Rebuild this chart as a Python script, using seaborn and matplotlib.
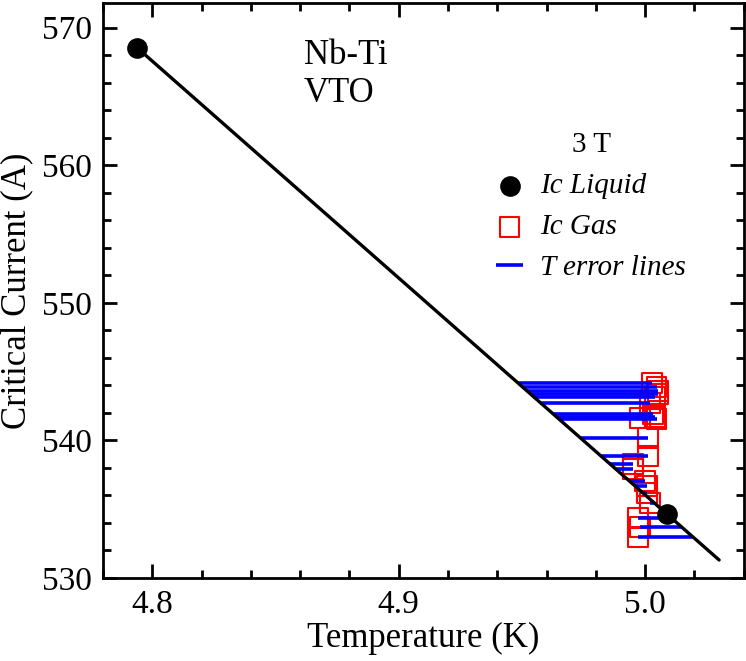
import numpy as np
import pandas as pd
import matplotlib
matplotlib.use('Agg')
import matplotlib.pyplot as plt
from matplotlib.ticker import MultipleLocator, FormatStrFormatter
import seaborn as sns

# Liquid helium measurements (temperature in K, critical current in A)
liquid_T = [4.7938, 5.0088]
liquid_Ic = [568.55, 534.65]

# Temperature range covered by the straight fit line
fit_T_range = [4.7938, 5.030]

# Gas measurements
gas_T = [5.0026, 5.0046, 5.0053, 5.0052, 5.0039, 5.0019, 5.0032, 5.0039, 5.0046,
         4.9978, 5.0012, 5.0013, 4.9951, 4.9951, 4.9999, 5.0006, 5.0007, 5.0019,
         4.9972, 4.9978, 4.9972]
gas_Ic = [544.16, 543.87, 543.60, 543.38, 543.19, 542.75, 541.93, 541.73, 541.54,
          541.64, 540.16, 538.85, 538.29, 537.89, 537.05, 536.67, 536.18, 535.48,
          534.34, 533.69, 532.96]

liquid = pd.DataFrame({'T': liquid_T, 'Ic': liquid_Ic})
gas = pd.DataFrame({'T': gas_T, 'Ic': gas_Ic})

# Linear fit through the liquid points
slope, intercept = np.polyfit(liquid['T'], liquid['Ic'], 1)
fit = pd.DataFrame({'T': fit_T_range})
fit['Ic'] = slope * fit['T'] + intercept

# Temperature on the fit line for each gas current -> error line ends
gas['T_fit'] = (gas['Ic'] - intercept) / slope

sns.set_style('ticks')
plt.rcParams['font.family'] = ['Liberation Serif', 'DejaVu Serif']
plt.rcParams['text.color'] = 'black'
plt.rcParams['axes.labelcolor'] = 'black'

fig = plt.figure(figsize=(7.46, 6.61), dpi=100)
ax = fig.add_axes([0.138, 0.1256, 0.859, 0.870])

sns.scatterplot(data=gas, x='T', y='Ic', marker='s', s=205, facecolor='none',
                edgecolor='red', linewidth=1.5, ax=ax, zorder=2, label='Ic Gas')
ax.hlines(gas['Ic'], np.minimum(gas['T'], gas['T_fit']),
          np.maximum(gas['T'], gas['T_fit']), color='blue', linewidth=2.6,
          zorder=3, label='T error lines')
sns.lineplot(data=fit, x='T', y='Ic', color='black', linewidth=2.4, ax=ax, zorder=4)
sns.scatterplot(data=liquid, x='T', y='Ic', color='black', s=190, edgecolor='black',
                ax=ax, zorder=5, label='Ic Liquid')

ax.set_xlim(4.78, 5.04)
ax.set_ylim(530, 571.8)
ax.xaxis.set_major_locator(MultipleLocator(0.1))
ax.xaxis.set_minor_locator(MultipleLocator(0.02))
ax.xaxis.set_major_formatter(FormatStrFormatter('%.1f'))
ax.yaxis.set_major_locator(MultipleLocator(10))
ax.yaxis.set_minor_locator(MultipleLocator(2))
ax.tick_params(which='both', direction='in', top=True, right=True, width=2,
               labelsize=24, colors='black')
ax.tick_params(which='major', length=10, pad=8)
ax.tick_params(which='minor', length=6)
for sp in ax.spines.values():
    sp.set_linewidth(2)
    sp.set_color('black')

ax.set_xlabel('Temperature (K)', fontsize=25, labelpad=2)
ax.set_ylabel('Critical Current (A)', fontsize=25, labelpad=6)

ax.text(0.313, 0.8934, 'Nb-Ti', fontsize=25, transform=ax.transAxes, va='baseline')
ax.text(0.313, 0.828, 'VTO', fontsize=25, transform=ax.transAxes, va='baseline')

# Legend in the order of the reference
handles, labels = ax.get_legend_handles_labels()
order = [labels.index(l) for l in ['Ic Liquid', 'Ic Gas', 'T error lines']]
ax.legend([handles[i] for i in order], [labels[i] for i in order],
          title='3 T', loc='upper left', bbox_to_anchor=(0.614, 0.775),
          frameon=False, borderpad=0, borderaxespad=0, handlelength=0.9,
          handletextpad=0.6, labelspacing=0.5,
          prop={'style': 'italic', 'size': 21},
          title_fontproperties={'size': 21})

fig.savefig('out.png', dpi=100)
